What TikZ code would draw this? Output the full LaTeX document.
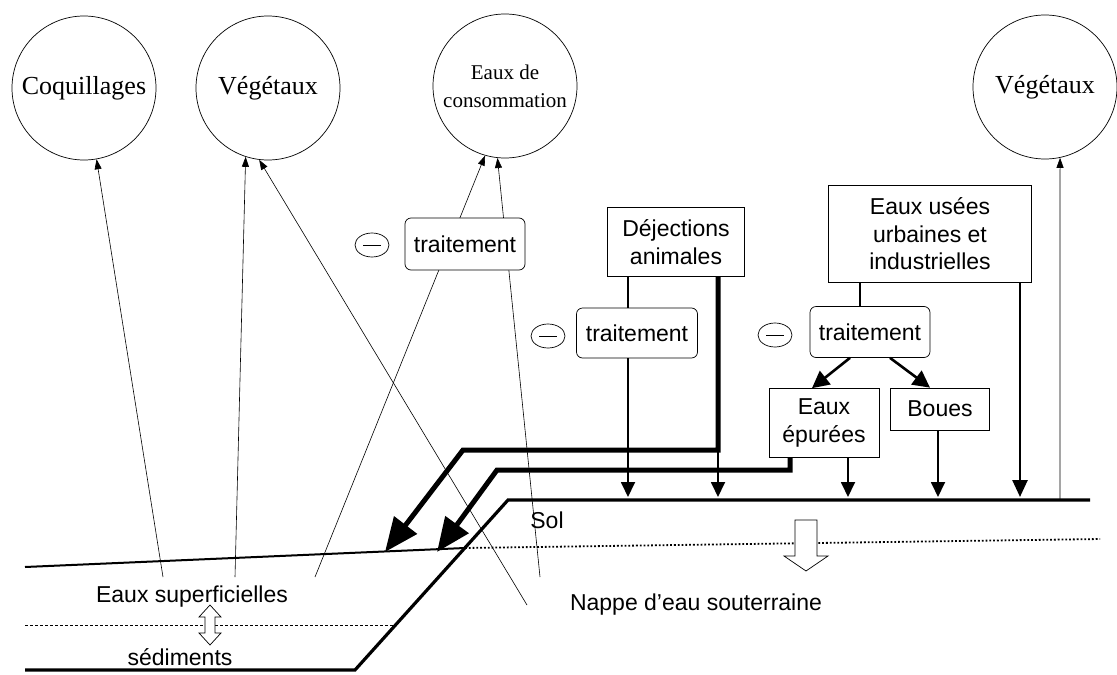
\documentclass[tikz,border=0pt]{standalone}
\usepackage{fontspec}
\setmainfont{Liberation Serif}
\setsansfont{Liberation Sans}
\usetikzlibrary{arrows.meta,shapes.geometric}
\begin{document}
\begin{tikzpicture}[x=1pt,y=-1pt,
  circ/.style={circle, draw, line width=0.7, minimum size=144, inner sep=0, align=center, font=\fontsize{26}{28}\selectfont},
  box/.style={draw, line width=0.7, fill=white, align=center, inner sep=2, font=\sffamily\fontsize{23}{27.5}\selectfont},
  rbox/.style={box, rounded corners=6},
  minus/.style={ellipse, draw, line width=0.7, minimum width=34, minimum height=24, inner sep=0,
     path picture={\draw[line width=0.7] ([xshift=8]path picture bounding box.west) -- ([xshift=-8]path picture bounding box.east);}},
  lbl/.style={font=\sffamily\fontsize{23}{27}\selectfont, inner sep=1},
  thinarrow/.style={line width=0.6, -{Triangle[length=10,width=7]}},
  medarrow/.style={line width=1.8, -{Triangle[length=15,width=14]}},
  bigarrow/.style={line width=2.6, -{Triangle[length=17,width=17]}},
  thickline/.style={line width=5, line join=miter, -{Triangle[length=34,width=28]}},
  ground/.style={line width=3.2, line join=miter},
  hollow/.style={draw, line width=0.7, fill=white}
]
\useasboundingbox (0,0) rectangle (1117,675);

% receptors
\node[circ] (coq) at (84,88) {Coquillages};
\node[circ] (veg1) at (268,88) {Végétaux};
\node[circ, font=\fontsize{21}{28}\selectfont] (cons) at (505,86) {Eaux de\\consommation};
\node[circ] (veg2) at (1045,87) {Végétaux};

% ground layers
\coordinate (b0) at (25,670);
\coordinate (b1) at (355,670);
\coordinate (s1) at (508,500);
\coordinate (s2) at (1090,500);
\coordinate (w0) at (25,567);
\coordinate (w1) at (465,548);
\coordinate (d1) at (1100,539);
\coordinate (i0) at (25,625);
\coordinate (i1) at (395,625);
\draw[ground] (b0) -- (b1) -- (s1) -- (s2);
\draw[line width=2] (w0) -- (w1);
\draw[line width=1.8, dotted] (w1) -- (d1);
\draw[line width=0.6, densely dashed] (i0) -- (i1);

% thin transfer lines
\coordinate (t1) at (163,577);
\coordinate (t2) at (235,577);
\coordinate (t3) at (315,577);
\coordinate (t4) at (527,605);
\coordinate (t5) at (540,577);
\coordinate (t6) at (1060,500);
\draw[thinarrow] (t1) -- (coq.-80);
\draw[thinarrow] (t2) -- (veg1.-108);
\draw[thinarrow] (t4) -- (veg1.-97);
\draw[thinarrow] (t3) -- (cons.-106);
\draw[thinarrow] (t5) -- (cons.-96);
\draw[thinarrow] (t6) -- (veg2.-78);

% boxes
\node[rbox, minimum width=120, minimum height=52] (tr1) at (465,244) {traitement};
\node[minus] (m1) at (372,245) {};
\node[box, minimum width=137, minimum height=69] (dej) at (676,242) {Déjections\\animales};
\node[rbox, minimum width=121, minimum height=50] (tr2) at (637,333) {traitement};
\node[minus] (m2) at (548,336) {};
\node[box, minimum width=203, minimum height=97] (eu) at (930,234) {Eaux usées\\urbaines et\\industrielles};
\node[rbox, minimum width=120, minimum height=51] (tr3) at (870,332) {traitement};
\node[minus] (m3) at (775,335) {};
\node[box, minimum width=110, minimum height=69] (ep) at (824,423) {Eaux\\épurées};
\node[box, minimum width=99, minimum height=42] (boues) at (940,409) {Boues};

% flows to the soil
\coordinate (a1) at (628,497);
\coordinate (a2) at (718,497);
\coordinate (a3) at (848,497);
\coordinate (a4) at (938,497);
\coordinate (a5) at (1020,497);
\draw[line width=1.8] (dej.south -| a1) -- (tr2.north -| a1);
\draw[medarrow] (tr2.south -| a1) -- (a1);
\draw[medarrow] (ep.south -| a3) -- (a3);
\draw[medarrow] (boues.south -| a4) -- (a4);
\draw[line width=2.6, -{Triangle[length=17,width=15]}] (eu.south -| a5) -- (a5);
\coordinate (e1) at (860,0);
\draw[line width=2.6] (eu.south -| e1) -- (tr3.north -| e1);
\draw[bigarrow] ([xshift=-20]tr3.south) -- ([xshift=-12]ep.north);
\draw[bigarrow] ([xshift=20]tr3.south) -- ([xshift=-10]boues.north);

% runoff to surface water
\coordinate (k1a) at (718,450);
\coordinate (k1b) at (463,450);
\coordinate (k1c) at (385,552);
\coordinate (k2a) at (790,470);
\coordinate (k2b) at (497,470);
\coordinate (k2c) at (437,552);
\draw[thickline] (dej.south -| k1a) -- (k1a) -- (k1b) -- (k1c);
\draw[medarrow] (k1a) -- (a2);
\draw[thickline] (ep.south -| k2a) -- (k2a) -- (k2b) -- (k2c);

% labels
\node[lbl] (sol) at (547,520) {Sol};
\node[lbl] (sup) at (192,597) {Eaux superficielles};
\node[lbl] (sed) at (180,657) {sédiments};
\node[lbl] (nappe) at (696,605) {Nappe d'eau souterraine};

% hollow arrows
\draw[hollow] (205,617) -- (199,617) -- (210,605) -- (221,617) -- (215,617) -- (215,633) -- (221,633) -- (210,645) -- (199,633) -- (205,633) -- cycle;
\draw[hollow] (795,520) -- (817,520) -- (817,556) -- (828,556) -- (806,571) -- (784,556) -- (795,556) -- cycle;
\end{tikzpicture}
\end{document}
